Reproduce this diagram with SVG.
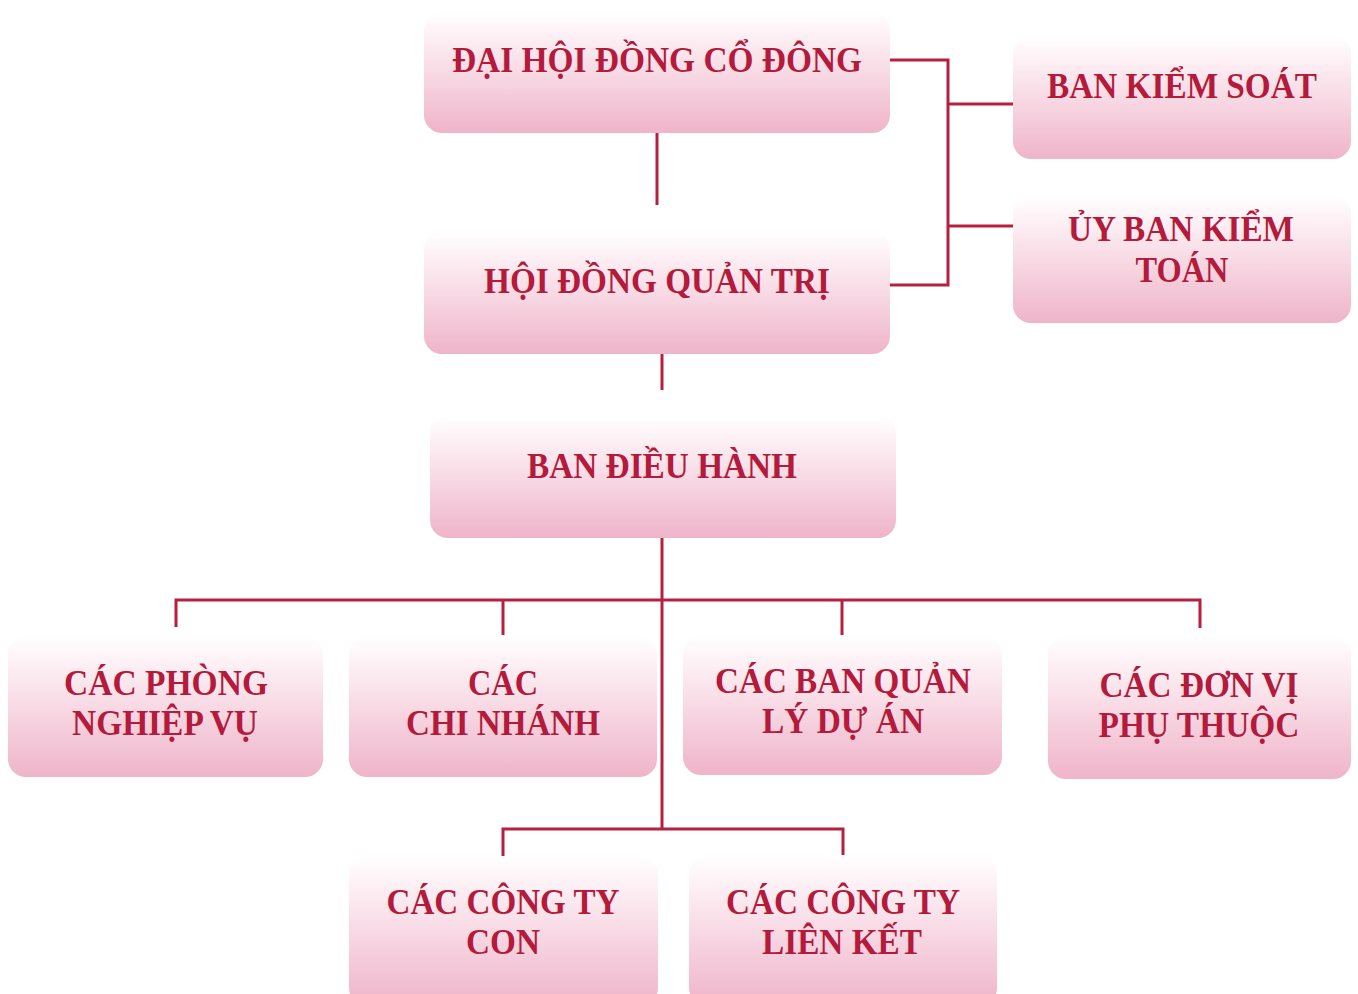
<svg xmlns="http://www.w3.org/2000/svg" width="1358" height="994" viewBox="0 0 1358 994">
<defs>
<linearGradient id="g" x1="0" y1="0" x2="0" y2="1">
<stop offset="0" stop-color="#ffffff"/>
<stop offset="0.2" stop-color="#fdf0f5"/>
<stop offset="1" stop-color="#efb4c9"/>
</linearGradient>
</defs>
<style>
.box{fill:url(#g);}
.t{font-family:"Liberation Serif","Times New Roman",serif;font-weight:bold;font-size:36px;fill:#b31a3b;text-anchor:middle;}
.c{stroke:#b5203f;stroke-width:3;fill:none;}
</style>
<rect width="1358" height="994" fill="#ffffff"/>
<g id="connectors">
<path class="c" d="M657 132V205"/>
<path class="c" d="M662 353V390"/>
<path class="c" d="M890 60H948V285H890"/>
<path class="c" d="M948 104H1013M948 226H1013"/>
<path class="c" d="M662 538V829"/>
<path class="c" d="M176 627V600H1200V628M503 600V635M842 600V635"/>
<path class="c" d="M503 860V829H843V855"/>
</g>
<g id="dhdcd">
<rect class="box" x="424" y="12" width="466" height="121" rx="18"/>
<text class="t" x="657" y="72" textLength="410" lengthAdjust="spacingAndGlyphs">ĐẠI HỘI ĐỒNG CỔ ĐÔNG</text>
</g>
<g id="hdqt">
<rect class="box" x="424" y="232" width="466" height="122" rx="18"/>
<text class="t" x="657" y="293" textLength="346" lengthAdjust="spacingAndGlyphs">HỘI ĐỒNG QUẢN TRỊ</text>
</g>
<g id="bdh">
<rect class="box" x="430" y="416" width="466" height="122" rx="18"/>
<text class="t" x="662" y="478" textLength="270" lengthAdjust="spacingAndGlyphs">BAN ĐIỀU HÀNH</text>
</g>
<g id="bks">
<rect class="box" x="1013" y="36" width="338" height="123" rx="18"/>
<text class="t" x="1182" y="98" textLength="270" lengthAdjust="spacingAndGlyphs">BAN KIỂM SOÁT</text>
</g>
<g id="ubkt">
<rect class="box" x="1013" y="196" width="338" height="127" rx="18"/>
<text class="t" x="1181" y="241" textLength="226" lengthAdjust="spacingAndGlyphs">ỦY BAN KIỂM</text>
<text class="t" x="1182" y="282" textLength="93" lengthAdjust="spacingAndGlyphs">TOÁN</text>
</g>
<g id="phong">
<rect class="box" x="8" y="636" width="315" height="141" rx="18"/>
<text class="t" x="166" y="695" textLength="204" lengthAdjust="spacingAndGlyphs">CÁC PHÒNG</text>
<text class="t" x="165" y="735" textLength="186" lengthAdjust="spacingAndGlyphs">NGHIỆP VỤ</text>
</g>
<g id="chinhanh">
<rect class="box" x="349" y="636" width="308" height="141" rx="18"/>
<text class="t" x="503" y="695" textLength="70" lengthAdjust="spacingAndGlyphs">CÁC</text>
<text class="t" x="503" y="735" textLength="194" lengthAdjust="spacingAndGlyphs">CHI NHÁNH</text>
</g>
<g id="banqlda">
<rect class="box" x="683" y="636" width="319" height="139" rx="18"/>
<text class="t" x="843" y="693" textLength="256" lengthAdjust="spacingAndGlyphs">CÁC BAN QUẢN</text>
<text class="t" x="843" y="733" textLength="162" lengthAdjust="spacingAndGlyphs">LÝ DỰ ÁN</text>
</g>
<g id="donvi">
<rect class="box" x="1048" y="636" width="303" height="143" rx="18"/>
<text class="t" x="1199" y="697" textLength="199" lengthAdjust="spacingAndGlyphs">CÁC ĐƠN VỊ</text>
<text class="t" x="1199" y="737" textLength="201" lengthAdjust="spacingAndGlyphs">PHỤ THUỘC</text>
</g>
<g id="congtycon">
<rect class="box" x="349" y="856" width="309" height="150" rx="18"/>
<text class="t" x="503" y="914" textLength="233" lengthAdjust="spacingAndGlyphs">CÁC CÔNG TY</text>
<text class="t" x="503" y="954" textLength="74" lengthAdjust="spacingAndGlyphs">CON</text>
</g>
<g id="lienket">
<rect class="box" x="689" y="856" width="308" height="150" rx="18"/>
<text class="t" x="843" y="914" textLength="234" lengthAdjust="spacingAndGlyphs">CÁC CÔNG TY</text>
<text class="t" x="842" y="954" textLength="160" lengthAdjust="spacingAndGlyphs">LIÊN KẾT</text>
</g>
</svg>
